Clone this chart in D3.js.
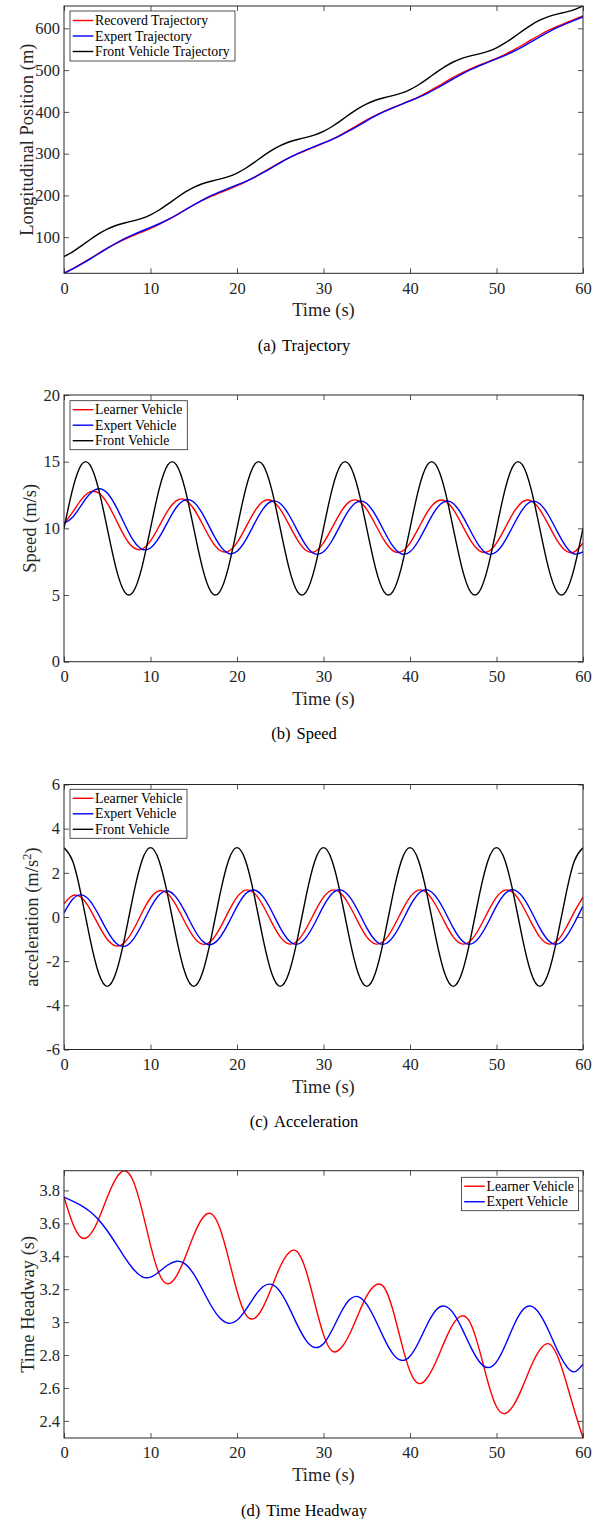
<!DOCTYPE html>
<html>
<head>
<meta charset="utf-8">
<script src="https://cdn.jsdelivr.net/npm/d3@7/dist/d3.min.js"></script>
<style>
    body { margin: 0; background: #fff; }
    svg text { font-family: "Liberation Serif", "Times New Roman", serif; }
</style>
</head>
<body>
<div id="vis"></div>
<script>
/* Four stacked MATLAB-style panels: trajectory, speed, acceleration, time headway */

// Sample times (s), one reading per second
var time = [0, 1, 2, 3, 4, 5, 6, 7, 8, 9,
    10, 11, 12, 13, 14, 15, 16, 17, 18, 19,
    20, 21, 22, 23, 24, 25, 26, 27, 28, 29,
    30, 31, 32, 33, 34, 35, 36, 37, 38, 39,
    40, 41, 42, 43, 44, 45, 46, 47, 48, 49,
    50, 51, 52, 53, 54, 55, 56, 57, 58, 59, 60];

// (a) Longitudinal position (m)
var posRecovered = [13.5, 24.26, 35.95, 48.44, 61.21, 73.53, 84.83, 94.85, 103.79, 112.24,
    120.94, 130.52, 141.28, 153.01, 165.19, 177.04, 187.96, 197.68, 206.38, 214.64,
    223.18, 232.68, 243.33, 254.99, 267.10, 278.90, 289.78, 299.47, 308.15, 316.39,
    324.94, 334.42, 345.07, 356.73, 368.84, 380.64, 391.52, 401.21, 409.89, 418.13,
    426.64, 436.12, 446.77, 458.43, 470.54, 482.34, 493.22, 502.91, 511.59, 519.83,
    528.34, 537.82, 548.47, 560.13, 572.24, 584.04, 594.92, 604.61, 613.29, 621.53, 630.04];
var posExpert = [13.5, 24.06, 35.33, 47.51, 60.35, 73.22, 85.43, 96.42, 106.12, 114.83,
    123.25, 132.13, 142.03, 153.08, 165.01, 177.13, 188.71, 199.20, 208.49, 216.86,
    225.00, 233.66, 243.37, 254.28, 266.07, 278.09, 289.59, 300.01, 309.24, 317.57,
    325.68, 334.32, 344.00, 354.88, 366.66, 378.66, 390.15, 400.56, 409.78, 418.10,
    426.20, 434.82, 444.50, 455.38, 467.16, 479.16, 490.65, 501.06, 510.28, 518.60,
    526.70, 535.32, 545.00, 555.88, 567.66, 579.66, 591.15, 601.56, 610.78, 619.10, 627.20];
var posFront = [53.5, 65.02, 79.00, 93.92, 107.90, 119.42, 127.90, 133.92, 139.00, 145.02,
    153.5, 165.02, 179.00, 193.92, 207.90, 219.42, 227.90, 233.92, 239.00, 245.02,
    253.5, 265.02, 279.00, 293.92, 307.90, 319.42, 327.90, 333.92, 339.00, 345.02,
    353.5, 365.02, 379.00, 393.92, 407.90, 419.42, 427.90, 433.92, 439.00, 445.02,
    453.5, 465.02, 479.00, 493.92, 507.90, 519.42, 527.90, 533.92, 539.00, 545.02,
    553.5, 565.02, 579.00, 593.92, 607.90, 619.42, 627.90, 633.92, 639.00, 645.02, 653.5];

// (b) Speed (m/s)
var speedLearner = [10.37, 11.21, 12.15, 12.73, 12.66, 11.89, 10.66, 9.40, 8.57, 8.44,
    9.06, 10.16, 11.32, 12.08, 12.14, 11.47, 10.33, 9.14, 8.36, 8.28,
    8.93, 10.06, 11.24, 12.01, 12.08, 11.43, 10.30, 9.12, 8.34, 8.26,
    8.91, 10.05, 11.22, 12.00, 12.07, 11.42, 10.29, 9.11, 8.33, 8.25,
    8.90, 10.04, 11.22, 11.99, 12.07, 11.42, 10.28, 9.10, 8.33, 8.25,
    8.90, 10.04, 11.21, 11.99, 12.06, 11.41, 10.28, 9.10, 8.32, 8.24, 8.90];
var speedExpert = [10.38, 10.84, 11.73, 12.59, 12.97, 12.65, 11.65, 10.33, 9.11, 8.44,
    8.53, 9.32, 10.49, 11.58, 12.14, 11.97, 11.10, 9.87, 8.74, 8.13,
    8.28, 9.12, 10.33, 11.44, 12.03, 11.87, 11.02, 9.81, 8.69, 8.09,
    8.25, 9.09, 10.30, 11.42, 12.01, 11.86, 11.01, 9.80, 8.68, 8.09,
    8.24, 9.09, 10.30, 11.42, 12.01, 11.86, 11.01, 9.80, 8.68, 8.08,
    8.24, 9.08, 10.29, 11.41, 12.00, 11.85, 11.00, 9.79, 8.67, 8.08, 8.23];
var speedFront = [10, 12.94, 14.76, 14.76, 12.94, 10, 7.06, 5.24, 5.24, 7.06,
    10, 12.94, 14.76, 14.76, 12.94, 10, 7.06, 5.24, 5.24, 7.06,
    10, 12.94, 14.76, 14.76, 12.94, 10, 7.06, 5.24, 5.24, 7.06,
    10, 12.94, 14.76, 14.76, 12.94, 10, 7.06, 5.24, 5.24, 7.06,
    10, 12.94, 14.76, 14.76, 12.94, 10, 7.06, 5.24, 5.24, 7.06,
    10, 12.94, 14.76, 14.76, 12.94, 10, 7.06, 5.24, 5.24, 7.06, 10];

// (c) Acceleration (m/s^2)
var accLearner = [0.60, 0.97, 0.88, 0.36, -0.37, -1.01, -1.31, -1.15, -0.59, 0.18,
    0.86, 1.19, 1.05, 0.50, -0.25, -0.91, -1.23, -1.09, -0.53, 0.23,
    0.90, 1.22, 1.08, 0.52, -0.23, -0.90, -1.22, -1.08, -0.52, 0.23,
    0.90, 1.22, 1.08, 0.52, -0.23, -0.90, -1.22, -1.08, -0.52, 0.23,
    0.90, 1.22, 1.08, 0.52, -0.23, -0.90, -1.22, -1.08, -0.52, 0.23,
    0.90, 1.22, 1.08, 0.52, -0.23, -0.90, -1.22, -1.08, -0.52, 0.23, 0.90];
var accExpert = [0.19, 0.80, 1.00, 0.73, 0.10, -0.63, -1.18, -1.33, -1.01, -0.35,
    0.42, 1.00, 1.18, 0.88, 0.23, -0.52, -1.09, -1.25, -0.94, -0.29,
    0.47, 1.05, 1.22, 0.92, 0.27, -0.49, -1.06, -1.23, -0.92, -0.27,
    0.49, 1.06, 1.23, 0.92, 0.27, -0.49, -1.06, -1.23, -0.92, -0.27,
    0.49, 1.06, 1.23, 0.92, 0.27, -0.49, -1.06, -1.23, -0.92, -0.27,
    0.49, 1.06, 1.23, 0.92, 0.27, -0.49, -1.06, -1.23, -0.92, -0.27, 0.49];
var accFront = [3.14, 2.54, 0.97, -0.97, -2.54, -3.14, -2.54, -0.97, 0.97, 2.54,
    3.14, 2.54, 0.97, -0.97, -2.54, -3.14, -2.54, -0.97, 0.97, 2.54,
    3.14, 2.54, 0.97, -0.97, -2.54, -3.14, -2.54, -0.97, 0.97, 2.54,
    3.14, 2.54, 0.97, -0.97, -2.54, -3.14, -2.54, -0.97, 0.97, 2.54,
    3.14, 2.54, 0.97, -0.97, -2.54, -3.14, -2.54, -0.97, 0.97, 2.54,
    3.14, 2.54, 0.97, -0.97, -2.54, -3.14, -2.54, -0.97, 0.97, 2.54, 3.14];

// (d) Time headway (s)
var headwayLearner = [3.760, 3.601, 3.513, 3.530, 3.625, 3.758, 3.872, 3.920, 3.858, 3.685,
    3.468, 3.294, 3.233, 3.280, 3.393, 3.528, 3.631, 3.659, 3.573, 3.392,
    3.189, 3.047, 3.023, 3.090, 3.210, 3.338, 3.422, 3.426, 3.309, 3.113,
    2.924, 2.824, 2.841, 2.925, 3.045, 3.159, 3.225, 3.212, 3.078, 2.877,
    2.701, 2.627, 2.662, 2.759, 2.883, 2.989, 3.038, 2.992, 2.836, 2.638,
    2.486, 2.445, 2.497, 2.605, 2.732, 2.831, 2.869, 2.800, 2.645, 2.465, 2.296];
var headwayExpert = [3.760, 3.735, 3.708, 3.672, 3.622, 3.555, 3.477, 3.395, 3.323, 3.277,
    3.273, 3.306, 3.347, 3.370, 3.354, 3.291, 3.198, 3.101, 3.026, 2.993,
    3.011, 3.074, 3.154, 3.215, 3.229, 3.184, 3.091, 2.980, 2.888, 2.846,
    2.869, 2.952, 3.057, 3.136, 3.155, 3.108, 3.013, 2.901, 2.809, 2.768,
    2.793, 2.878, 2.987, 3.072, 3.097, 3.055, 2.962, 2.851, 2.761, 2.724,
    2.759, 2.858, 2.980, 3.072, 3.097, 3.049, 2.951, 2.834, 2.739, 2.698, 2.745];

// Tick labels
var timeTicks = [0, 10, 20, 30, 40, 50, 60];
var posTicks = [100, 200, 300, 400, 500, 600];
var speedTicks = [0, 5, 10, 15, 20];
var accTicks = [-6, -4, -2, 0, 2, 4, 6];
var headwayTicks = [2.4, 2.6, 2.8, 3.0, 3.2, 3.4, 3.6, 3.8];

// Legend entries
var trajectoryLegend = ['Recoverd Trajectory', 'Expert Trajectory', 'Front Vehicle Trajectory'];
var vehicleLegend = ['Learner Vehicle', 'Expert Vehicle', 'Front Vehicle'];
var colors = ['#ff0000', '#0000ff', '#000000'];

var axisColor = '#262626';
var width = 608;
var height = 1519;
var plotLeft = 64;
var plotRight = 583;

var svg = d3.select('#vis')
    .append('svg')
    .attr('width', width)
    .attr('height', height);

// Shared x scale
var xScale = d3.scaleLinear()
    .domain([0, 60])
    .range([plotLeft, plotRight]);

var panels = [
    {
        key: 'a', top: 6, bottom: 273.3,
        series: [posRecovered, posExpert, posFront],
        domain: d3.extent(posRecovered.concat(posExpert, posFront)),
        ticks: posTicks, ylabel: ['Longitudinal Position (m)'], ylabelX: 32.5,
        caption: ['(a)', 'Trajectory'],
        legend: { labels: trajectoryLegend, x: 70, y: 11, w: 165, h: 50 }
    },
    {
        key: 'b', top: 395, bottom: 661.7,
        series: [speedLearner, speedExpert, speedFront],
        domain: [0, 20],
        ticks: speedTicks, ylabel: ['Speed (m/s)'], ylabelX: 36,
        caption: ['(b)', 'Speed'],
        legend: { labels: vehicleLegend, x: 70, y: 400.7, w: 117.3, h: 49 }
    },
    {
        key: 'c', top: 784.5, bottom: 1049.5,
        series: [accLearner, accExpert, accFront],
        domain: [-6, 6],
        ticks: accTicks, ylabel: ['acceleration (m/s', '2', ')'], ylabelX: 38,
        caption: ['(c)', 'Acceleration'],
        legend: { labels: vehicleLegend, x: 70, y: 789.3, w: 117, h: 49 }
    },
    {
        key: 'd', top: 1170.7, bottom: 1438,
        series: [headwayLearner, headwayExpert],
        domain: d3.extent(headwayLearner.concat(headwayExpert)),
        ticks: headwayTicks, ylabel: ['Time Headway (s)'], ylabelX: 34,
        caption: ['(d)', 'Time Headway'],
        legend: { labels: vehicleLegend.slice(0, 2), x: 461.5, y: 1177.3, w: 117, h: 33.4 }
    }
];

var tickFormat = function (d) {
    return String(+d.toFixed(1));
};

var styleAxis = function (g, fontSize) {
    g.select('.domain').remove();
    g.selectAll('line').attr('stroke', axisColor).attr('stroke-width', 0.8);
    g.selectAll('text')
        .style('font-family', '"Liberation Serif", "Times New Roman", serif')
        .style('font-size', fontSize)
        .attr('fill', axisColor);
};

panels.forEach(function (p) {
    var yScale = d3.scaleLinear()
        .domain(p.domain)
        .range([p.bottom, p.top]);

    var g = svg.append('g').attr('class', 'panel-' + p.key);

    // Clip lines to the axes box
    g.append('clipPath')
        .attr('id', 'clip-' + p.key)
        .append('rect')
        .attr('x', plotLeft)
        .attr('y', p.top)
        .attr('width', plotRight - plotLeft)
        .attr('height', p.bottom - p.top);

    var line = d3.line()
        .x(function (d, i) { return xScale(time[i]); })
        .y(function (d) { return yScale(d); })
        .curve(d3.curveNatural);

    g.append('g')
        .attr('clip-path', 'url(#clip-' + p.key + ')')
        .selectAll('path')
        .data(p.series)
        .enter()
        .append('path')
        .attr('d', line)
        .attr('fill', 'none')
        .attr('stroke', function (d, i) { return colors[i]; })
        .attr('stroke-width', 1.4);

    // Bottom axis with labels, ticks pointing inward
    g.append('g')
        .attr('transform', 'translate(0,' + p.bottom + ')')
        .call(d3.axisBottom(xScale).tickValues(timeTicks).tickSizeInner(-5).tickSizeOuter(0).tickPadding(8.5))
        .call(styleAxis, '16.5px');

    // Top axis, ticks only
    g.append('g')
        .attr('transform', 'translate(0,' + p.top + ')')
        .call(d3.axisTop(xScale).tickValues(timeTicks).tickSizeInner(-5).tickSizeOuter(0).tickFormat(''))
        .call(styleAxis, '16.5px');

    // Left axis with labels
    g.append('g')
        .attr('transform', 'translate(' + plotLeft + ',0)')
        .call(d3.axisLeft(yScale).tickValues(p.ticks).tickFormat(tickFormat).tickSizeInner(-5).tickSizeOuter(0).tickPadding(4))
        .call(styleAxis, '16.5px');

    // Right axis, ticks only
    g.append('g')
        .attr('transform', 'translate(' + plotRight + ',0)')
        .call(d3.axisRight(yScale).tickValues(p.ticks).tickSizeInner(-5).tickSizeOuter(0).tickFormat(''))
        .call(styleAxis, '16.5px');

    // Axes box
    g.append('rect')
        .attr('x', plotLeft)
        .attr('y', p.top)
        .attr('width', plotRight - plotLeft)
        .attr('height', p.bottom - p.top)
        .attr('fill', 'none')
        .attr('stroke', axisColor)
        .attr('stroke-width', 1);

    // x axis title
    g.append('text')
        .attr('x', (plotLeft + plotRight) / 2)
        .attr('y', p.bottom + 43)
        .attr('text-anchor', 'middle')
        .attr('fill', axisColor)
        .style('font-size', '18.5px')
        .text('Time (s)');

    // y axis title
    var yTitle = g.append('text')
        .attr('transform', 'translate(' + p.ylabelX + ',' + ((p.top + p.bottom) / 2) + ') rotate(-90)')
        .attr('text-anchor', 'middle')
        .attr('fill', axisColor)
        .style('font-size', '18.5px');
    yTitle.append('tspan').text(p.ylabel[0]);
    if (p.ylabel.length > 1) {
        yTitle.append('tspan').attr('dy', -7).style('font-size', '13px').text(p.ylabel[1]);
        yTitle.append('tspan').attr('dy', 7).text(p.ylabel[2]);
    }

    // Sub-figure caption
    var cap = g.append('text')
        .attr('x', 304)
        .attr('y', p.bottom + 77.5)
        .attr('text-anchor', 'middle')
        .attr('fill', '#000')
        .style('font-size', '16.5px');
    cap.append('tspan').text(p.caption[0]);
    cap.append('tspan').attr('dx', 6).text(p.caption[1]);

    // Legend box
    var lg = p.legend;
    var leg = g.append('g').attr('transform', 'translate(' + lg.x + ',' + lg.y + ')');
    leg.append('rect')
        .attr('width', lg.w)
        .attr('height', lg.h)
        .attr('fill', '#fff')
        .attr('stroke', axisColor)
        .attr('stroke-width', 0.8);

    var rowGap = 15.5;
    var firstRow = lg.h / 2 - rowGap * (lg.labels.length - 1) / 2;
    var rows = leg.selectAll('.row')
        .data(lg.labels)
        .enter()
        .append('g')
        .attr('class', 'row')
        .attr('transform', function (d, i) { return 'translate(0,' + (firstRow + i * rowGap) + ')'; });
    rows.append('line')
        .attr('x1', 2.7)
        .attr('x2', 23.3)
        .attr('stroke', function (d, i) { return colors[i]; })
        .attr('stroke-width', 1.4);
    rows.append('text')
        .attr('x', 25)
        .attr('dy', '0.33em')
        .attr('fill', '#000')
        .style('font-size', '13.8px')
        .text(function (d) { return d; });
});
</script>
</body>
</html>
